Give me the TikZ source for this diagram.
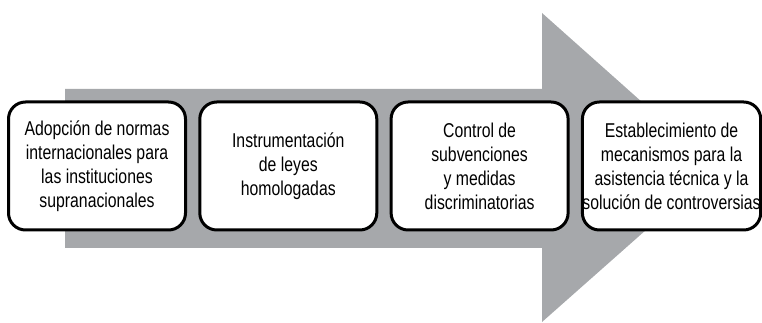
\documentclass[tikz,border=0pt]{standalone}
\usepackage{fontspec}
\setmainfont[FakeStretch=0.79]{Liberation Sans}
\usepackage{tikz}
\usetikzlibrary{positioning}
\definecolor{arrowgray}{RGB}{166,168,171}

\begin{document}
\begin{tikzpicture}[x=1pt, y=1pt, node distance=11.3pt,
    stagebox/.style={draw=black, line width=3pt, rounded corners=17pt, fill=white,
      minimum width=177pt, minimum height=128pt, align=center,
      inner xsep=0pt, inner ysep=2pt, font=\fontsize{20}{24}\selectfont}]
    \useasboundingbox (0,0) rectangle (762,323);
    % big arrow behind the boxes
    \fill[arrowgray] (65,75) -- (542,75) -- (542,1) -- (716,155) -- (542,310) -- (542,234) -- (65,234) -- cycle;

    \node[stagebox] (adopcion) at (97,157) {Adopción de normas\\internacionales para\\las instituciones\\supranacionales};
    \node[stagebox, right=of adopcion] (leyes) {Instrumentación\\de leyes\\homologadas};
    \node[stagebox, right=of leyes] (control) {Control de\\subvenciones\\y medidas\\discriminatorias};
    \node[stagebox, right=of control] (mecanismos) {Establecimiento de\\mecanismos para la\\asistencia técnica y la\\solución de controversias};
\end{tikzpicture}
\end{document}
